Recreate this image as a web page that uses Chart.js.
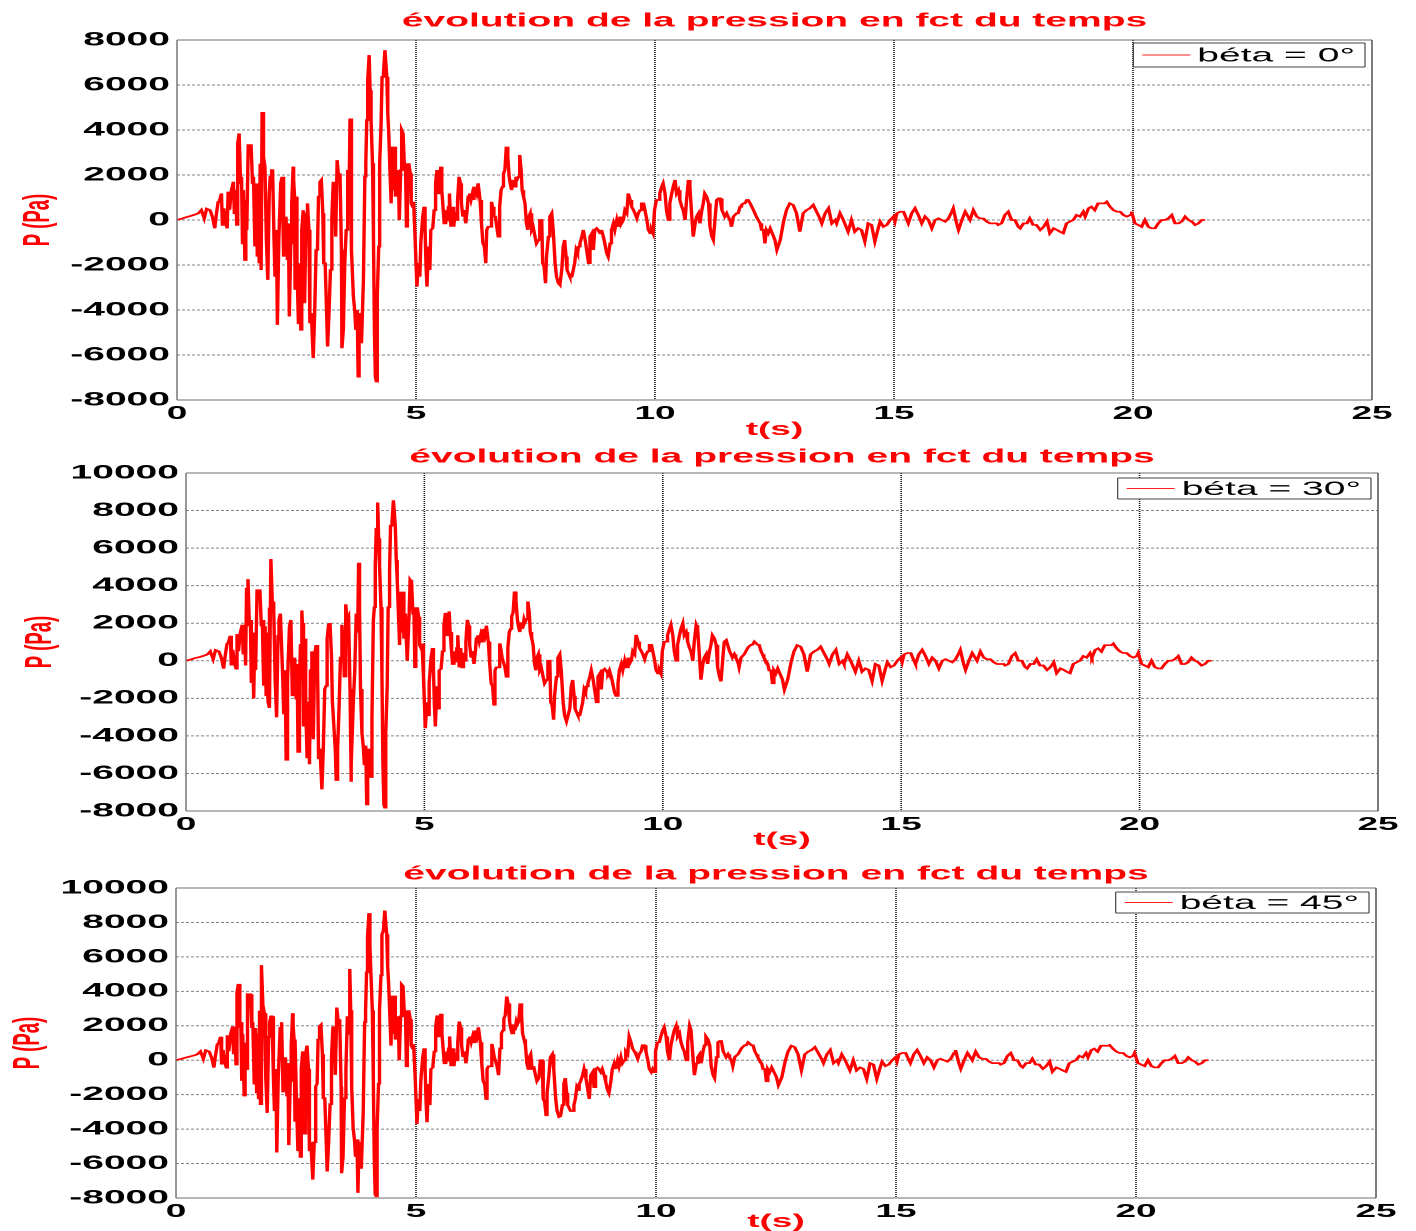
<!DOCTYPE html>
<html>
<head>
<meta charset="utf-8">
<title>évolution de la pression en fct du temps</title>
<script src="https://cdn.jsdelivr.net/npm/chart.js@4.4.1/dist/chart.umd.min.js"></script>
<style>
  html, body { margin: 0; padding: 0; background: #fff; }
  body { width: 1416px; height: 1231px; overflow: hidden; position: relative; }
  /* the original figure is stretched 2x horizontally, text included */
  #stage { position: absolute; left: 0; top: 0; width: 708px; height: 1231px; transform: scaleX(2); transform-origin: 0 0; }
  #stage canvas { position: absolute; left: 0; }
</style>
</head>
<body>
<div id="stage">
  <canvas id="c1" width="708" height="440" style="top:0px"></canvas>
  <canvas id="c2" width="708" height="415" style="top:440px"></canvas>
  <canvas id="c3" width="708" height="376" style="top:855px"></canvas>
</div>
<script>
// time (s), shared by the three records
const timeS = [
  0, 0.1, 0.2, 0.3, 0.4, 0.45, 0.51, 0.57, 0.62, 0.69,
  0.74, 0.79, 0.82, 0.86, 0.89, 0.93, 0.95, 0.98, 1.02, 1.05,
  1.07, 1.1, 1.14, 1.18, 1.2, 1.23, 1.25, 1.27, 1.3, 1.33,
  1.35, 1.37, 1.39, 1.42, 1.44, 1.46, 1.49, 1.55, 1.58, 1.6,
  1.63, 1.66, 1.68, 1.7, 1.72, 1.74, 1.76, 1.78, 1.81, 1.84,
  1.87, 1.9, 1.93, 1.95, 1.98, 2.0, 2.03, 2.05, 2.08, 2.1,
  2.13, 2.17, 2.2, 2.23,
  2.26, 2.28, 2.31, 2.33, 2.35, 2.38, 2.4, 2.43, 2.44, 2.46,
  2.47, 2.49, 2.51, 2.54, 2.57, 2.59, 2.61, 2.64, 2.67, 2.7,
  2.73, 2.76, 2.78, 2.81, 2.85, 2.88, 2.91, 2.94, 2.96, 2.99,
  3.02, 3.05, 3.07, 3.1, 3.13, 3.15, 3.18, 3.21, 3.24, 3.27,
  3.3, 3.32, 3.35, 3.38, 3.41, 3.44, 3.45, 3.48, 3.51, 3.54,
  3.57, 3.6, 3.62, 3.64, 3.66, 3.69, 3.72, 3.74, 3.77, 3.79,
  3.81, 3.84, 3.86, 3.9, 3.93, 3.95, 3.97, 3.99, 4.02, 4.04,
  4.06, 4.09, 4.11, 4.13, 4.15, 4.17, 4.19, 4.22, 4.24, 4.27,
  4.29, 4.32,
  4.35, 4.39, 4.41, 4.43, 4.46, 4.48, 4.5, 4.53, 4.55, 4.57,
  4.6, 4.62, 4.63, 4.65, 4.68, 4.7, 4.73, 4.76, 4.78, 4.8,
  4.82, 4.85, 4.88, 4.9, 4.93, 4.95, 4.98, 5.0, 5.02, 5.05,
  5.08, 5.1, 5.14, 5.17, 5.19, 5.21, 5.23, 5.26, 5.29, 5.31,
  5.35, 5.38, 5.41, 5.44, 5.47, 5.49, 5.52, 5.54, 5.57, 5.59,
  5.62, 5.65, 5.68, 5.7, 5.73, 5.76, 5.79, 5.82, 5.84, 5.87,
  5.9, 5.93, 5.95, 5.98, 6.01, 6.04, 6.07, 6.09, 6.12, 6.15,
  6.18, 6.21, 6.23, 6.27, 6.3, 6.34, 6.37, 6.4, 6.43, 6.46,
  6.48, 6.51, 6.55, 6.58, 6.6, 6.63, 6.66, 6.69, 6.72, 6.75,
  6.78, 6.81, 6.83, 6.86, 6.89, 6.92, 6.95, 6.97, 7.0, 7.03,
  7.06, 7.09, 7.11, 7.14, 7.17, 7.2, 7.22, 7.25, 7.28, 7.31,
  7.34, 7.36, 7.39, 7.42, 7.45,
  7.49, 7.52, 7.56, 7.59, 7.63, 7.65, 7.68, 7.71, 7.73, 7.77,
  7.8, 7.84, 7.87, 7.91, 7.94, 7.98, 8.01, 8.05, 8.08, 8.11,
  8.14, 8.16, 8.19, 8.22, 8.26, 8.29, 8.32, 8.35, 8.38, 8.4,
  8.43, 8.47, 8.5, 8.54, 8.57, 8.61, 8.64, 8.68, 8.71, 8.74,
  8.78, 8.81, 8.85, 8.88, 8.92, 8.95, 8.99, 9.02, 9.06, 9.09,
  9.13, 9.16, 9.2, 9.23, 9.27, 9.3, 9.34, 9.37, 9.41, 9.44,
  9.48, 9.51, 9.55, 9.58, 9.62, 9.65, 9.69, 9.72, 9.76, 9.79,
  9.83, 9.86, 9.9, 9.93, 9.96, 9.99, 10.03, 10.07, 10.1, 10.14,
  10.17, 10.21, 10.24, 10.28, 10.31, 10.35, 10.38, 10.42, 10.45, 10.49,
  10.52, 10.56, 10.59, 10.63, 10.66, 10.7, 10.73, 10.77, 10.8, 10.84,
  10.87, 10.91, 10.94, 10.98, 11.01, 11.04, 11.08, 11.12, 11.15, 11.19,
  11.22, 11.26, 11.29, 11.33, 11.36, 11.4, 11.43, 11.46, 11.5, 11.53,
  11.57, 11.6, 11.64, 11.67, 11.71, 11.74, 11.78, 11.81, 11.85, 11.88,
  11.92, 11.95, 11.99, 12.02, 12.06, 12.09, 12.12, 12.16, 12.2, 12.23,
  12.27, 12.3, 12.33, 12.37,
  12.41, 12.51, 12.55, 12.62, 12.69, 12.75, 12.82, 12.89, 12.96, 13.03,
  13.1, 13.17, 13.24, 13.31, 13.38, 13.45, 13.49, 13.56, 13.63, 13.7,
  13.77, 13.8, 13.87, 13.94, 14.04, 14.11, 14.18, 14.25, 14.32, 14.39,
  14.46, 14.53, 14.6, 14.67, 14.71, 14.78, 14.85, 14.92, 14.99, 15.02,
  15.06, 15.13, 15.2, 15.27, 15.3, 15.37, 15.44, 15.51, 15.58, 15.65,
  15.72, 15.79, 15.86, 15.93, 16.0, 16.07, 16.14, 16.21, 16.24, 16.31,
  16.35, 16.42, 16.49, 16.55, 16.59, 16.66, 16.73, 16.8, 16.87, 16.94,
  17.01, 17.08, 17.15, 17.18, 17.25, 17.32, 17.39, 17.46, 17.53, 17.6,
  17.64, 17.71, 17.78, 17.84, 17.91, 17.98, 18.06, 18.13, 18.2, 18.26,
  18.34, 18.41, 18.47, 18.54, 18.61, 18.68, 18.75, 18.82, 18.89, 18.96,
  19.0, 19.07, 19.13, 19.2, 19.27, 19.34, 19.41, 19.45, 19.52, 19.59,
  19.66, 19.73, 19.8, 19.87, 19.94, 19.97, 20.04, 20.11, 20.18, 20.25,
  20.32, 20.39, 20.46, 20.53, 20.6, 20.67, 20.74, 20.81, 20.88, 20.95,
  21.02, 21.09, 21.16, 21.23, 21.3, 21.37, 21.44, 21.51
];

// pressure (Pa), beta = 0 deg
const pBeta0 = [
  0, 60, 130, 190, 260, 300, 440, 70, 500, 440,
  150, -370, 200, 800, 870, 1180, -220, 520, -150, -370,
  1260, 450, 1330, 1700, 300, 1330, -220, 3400, 3850, 1630,
  1920, -1040, 1330, -1780, 890, -440, 3330, 3330, 1630, 1920,
  -1180, 1630, -1630, 1330, -1920, 2500, -2220, 4800, 2800, 2370,
  -890, -2660, 1180, 1920, 2220, 2220, -890, -2520, -440, -4660,
  -890, 1630, 1920, -1630,
  -1040, 150, -1780, -150, -4290, -1040, 740, 2370, 1780, 1040,
  -3100, 1040, -2070, -4590, -1920, -4880, -440, 440, -3700, 300,
  740, -440, -4590, -4140, -6140, -4140, -1330, -1180, 1040, 1700,
  1780, 300, -1920, -1920, -4140, -5620, -4140, -2220, 150, 1700,
  740, -740, 2660, 1920, 2070, -1330, -5700, -4880, -1920, -440,
  2220, 1330, 4510, 2520, -1330, -3400, -4070, -4880, -4000, -6960,
  -4590, -4140, -5480, -2660, 1920, 2520, 4440, 6220, 7330, 5770,
  4440, 2520, -740, -4880, -6960, -7180, -3400, -1180, 2520, 4290,
  6360, 6510,
  7550, 6360, 4740, 3850, 1920, 740, 3260, 1330, 3260, 1040,
  2220, 1040, 2070, 0, 2220, 4000, 3850, 2220, 2520, -300,
  1330, 2520, 2070, 740, 590, 810, -740, -1920, -2960, -1920,
  -2520, -1040, 150, 590, -440, -2070, -2960, -1180, -2220, -440,
  -370, 440, 1630, 2220, 1180, 1920, 2370, 1330, 440, -150,
  440, -70, 590, 1180, -300, 590, -300, 370, 0, 890,
  1920, 1630, 740, 150, 440, -150, 440, 1040, 1180, 890,
  1180, 890, 1480, 1180, 1630, 890, -150, -1040, -1180, -1920,
  -440, -300, -300, 810, 590, 150, 150, -300, -740, 590,
  1330, 1480, 2070, 2220, 3260, 2810, 1920, 1630, 1330, 1780,
  1480, 1920, 1780, 1920, 2890, 2220, 1330, 1040, 740, -150,
  -440, 150, 300, -440, -300,
  -740, -1040, -890, 0, 0, -1920, -2070, -2810, -1630, -740,
  150, 300, -440, -1920, -2520, -2810, -2880, -2220, -1180, -890,
  -1630, -2220, -2370, -2520, -2520, -2220, -1920, -1330, -1480, -1180,
  -1040, -740, -440, -890, -1330, -1920, -740, -590, -1330, -440,
  -370, -440, -590, -440, -740, -1040, -1480, -1630, -1040, -440,
  -150, -440, 0, -300, 150, -150, 0, 440, 300, 1180,
  890, 590, 440, 300, 70, 300, 440, 740, 740, 440,
  0, -440, -590, -440, -590, 440, 890, 890, 1180, 1480,
  1630, 1180, 440, 0, 740, 1180, 1480, 1780, 1180, 1330,
  890, 590, 440, 0, 890, 1780, 1480, 150, -740, -150,
  150, 300, -150, 440, 740, 1180, 1040, 740, -300, -740,
  -890, 150, 890, 960, 960, 440, 300, 150, 300, 150,
  0, -300, 150, 220, 300, 300, 590, 670, 740, 740,
  890, 890, 740, 740, 440, 300, 150, 0, -150, -440,
  -440, -1040, -440, -590,
  -370, -890, -1330, -890, -70, 440, 740, 670, 300, -520,
  300, 440, 520, 670, 370, 70, -150, 300, 520, -150,
  0, -150, 300, 0, -520, 0, -520, -370, -440, -960,
  -150, -220, -960, -370, -70, -300, -220, 0, 150, -70,
  300, 370, 370, 0, -150, 300, 520, 220, -150, 150,
  0, -370, 0, 70, 0, -70, 70, 370, 520, -150,
  -440, 0, 370, 150, 0, 440, 150, 70, 70, -70,
  -150, -150, -150, -220, -150, 220, 370, 0, 0, -300,
  -370, -150, -150, 70, -220, -220, -440, -300, -70, -590,
  -370, -440, -520, -590, -150, -70, 0, 220, 150, 370,
  150, 520, 590, 440, 740, 740, 740, 810, 590, 440,
  370, 370, 220, 150, 220, 370, -150, -220, -300, 0,
  -300, -370, -370, -150, 0, 0, 70, 220, -150, -150,
  -70, 150, 0, -70, -220, -150, 0, 0
];

// pressure (Pa), beta = 30 deg
const pBeta30 = [
  0, 70, 150, 210, 290, 340, 500, 80, 570, 500,
  170, -420, 230, 900, 980, 1330, -250, 590, -170, -420,
  1420, 510, 1500, 1920, 340, 1500, -250, 3840, 4350, 1840,
  2170, -1180, 1500, -2010, 1010, -500, 3760, 3760, 1840, 2170,
  -1330, 1840, -1840, 1500, -2170, 2830, -2510, 5420, 3160, 2680,
  -1010, -3010, 1330, 2170, 2510, 2510, -1010, -2850, -500, -5270,
  -1010, 1840, 2170, -1840,
  -1180, 170, -2010, -170, -4850, -1180, 840, 2680, 2010, 1180,
  -3500, 1180, -2340, -5190, -2170, -5510, -500, 500, -4180, 340,
  840, -500, -5190, -4680, -6850, -4680, -1500, -1330, 1180, 1920,
  2010, 340, -2170, -2170, -4680, -6350, -4680, -2510, 170, 1920,
  840, -840, 3010, 2170, 2340, -1500, -6440, -5510, -2170, -500,
  2510, 1500, 5220, 2850, -1500, -3840, -4600, -5510, -4520, -7650,
  -5190, -4680, -6190, -3010, 2170, 2850, 5020, 7030, 8430, 6520,
  5020, 2850, -840, -5510, -7650, -7820, -3840, -1330, 2850, 4850,
  7190, 7360,
  8550, 7190, 5360, 4350, 2170, 840, 3680, 1500, 3680, 1180,
  2510, 1180, 2340, 0, 2510, 4310, 4200, 2510, 2850, -340,
  1500, 2850, 2340, 840, 670, 920, -840, -2210, -3590, -2210,
  -2900, -1200, 170, 680, -510, -2380, -3500, -1360, -2550, -510,
  -430, 510, 1870, 2550, 1360, 2210, 2630, 1530, 510, -170,
  510, -80, 680, 1360, -350, 680, -350, 430, 0, 1020,
  2180, 1870, 850, 170, 510, -170, 510, 1200, 1360, 1020,
  1360, 1020, 1700, 1360, 1870, 1020, -170, -1200, -1360, -2340,
  -510, -350, -350, 930, 680, 170, 170, -350, -850, 680,
  1530, 1700, 2380, 2550, 3690, 3230, 2210, 1870, 1530, 2050,
  1700, 2210, 2050, 2210, 3160, 2550, 1530, 1200, 850, -170,
  -510, 170, 350, -510, -350,
  -850, -1200, -1020, 0, 0, -2210, -2380, -3140, -1870, -850,
  170, 350, -510, -2210, -2900, -3230, -3230, -2550, -1360, -1020,
  -1870, -2550, -2730, -2900, -2900, -2550, -2210, -1530, -1700, -1360,
  -1200, -850, -510, -1020, -1530, -2210, -850, -680, -1530, -510,
  -430, -510, -680, -510, -850, -1200, -1700, -1870, -1200, -510,
  -170, -510, 0, -350, 170, -170, 0, 510, 350, 1380,
  1020, 680, 510, 350, 80, 350, 510, 850, 850, 510,
  0, -510, -680, -510, -680, 510, 1020, 1020, 1360, 1700,
  1920, 1360, 510, 0, 850, 1360, 1700, 2000, 1360, 1530,
  1020, 680, 510, 0, 1020, 1900, 1700, 170, -1010, -170,
  170, 350, -170, 510, 850, 1360, 1200, 850, -350, -850,
  -1100, 170, 1020, 1100, 1100, 510, 350, 170, 350, 170,
  0, -350, 170, 250, 350, 350, 680, 770, 850, 850,
  1020, 1020, 850, 850, 510, 350, 170, 0, -170, -510,
  -510, -1200, -510, -680,
  -410, -1000, -1540, -1000, -80, 490, 830, 750, 340, -580,
  340, 490, 580, 750, 410, 80, -170, 340, 580, -170,
  0, -170, 340, 0, -580, 0, -580, -410, -490, -1080,
  -170, -250, -1080, -410, -80, -340, -250, 0, 170, -80,
  340, 410, 410, 0, -170, 340, 580, 250, -170, 170,
  0, -410, 0, 80, 0, -80, 80, 410, 580, -170,
  -490, 0, 410, 170, 0, 490, 170, 80, 80, -80,
  -170, -170, -170, -250, -170, 250, 410, 0, 0, -340,
  -410, -170, -170, 80, -250, -250, -490, -340, -80, -660,
  -410, -490, -580, -660, -170, -80, 0, 250, 170, 410,
  170, 580, 660, 490, 830, 830, 830, 910, 660, 490,
  410, 410, 250, 170, 250, 410, -170, -250, -340, 0,
  -340, -410, -410, -170, 0, 0, 80, 250, -170, -170,
  -80, 170, 0, -80, -250, -170, 0, 0
];

// pressure (Pa), beta = 45 deg
const pBeta45 = [
  0, 70, 150, 220, 300, 350, 510, 80, 580, 510,
  170, -430, 230, 920, 1000, 1360, -250, 600, -170, -430,
  1450, 520, 1530, 1960, 350, 1530, -250, 3910, 4430, 1870,
  2210, -1200, 1530, -2050, 1020, -510, 3830, 3830, 1870, 2210,
  -1360, 1870, -1870, 1530, -2210, 2880, -2550, 5520, 3220, 2730,
  -1020, -3060, 1360, 2210, 2550, 2550, -1020, -2900, -510, -5360,
  -1020, 1870, 2210, -1870,
  -1200, 170, -2050, -170, -4930, -1200, 850, 2730, 2050, 1200,
  -3570, 1200, -2380, -5280, -2210, -5610, -510, 510, -4260, 350,
  850, -510, -5280, -4760, -6930, -4760, -1530, -1360, 1200, 1960,
  2050, 350, -2210, -2210, -4760, -6460, -4760, -2550, 170, 1960,
  850, -850, 3060, 2210, 2380, -1530, -6560, -5610, -2210, -510,
  2550, 1530, 5300, 2900, -1530, -3910, -4680, -5610, -4600, -7700,
  -5280, -4760, -6300, -3060, 2210, 2900, 5110, 7150, 8540, 6640,
  5110, 2900, -850, -5610, -7800, -7900, -3910, -1360, 2900, 4930,
  7310, 7490,
  8690, 7310, 5450, 4430, 2210, 850, 3750, 1530, 3750, 1200,
  2550, 1200, 2380, 0, 2550, 4400, 4300, 2550, 2900, -350,
  1530, 2900, 2380, 850, 680, 930, -850, -2250, -3700, -2250,
  -2950, -1220, 180, 690, -510, -2420, -3600, -1380, -2600, -510,
  -430, 510, 1910, 2600, 1380, 2250, 2700, 1560, 510, -180,
  510, -80, 690, 1380, -350, 690, -350, 430, 0, 1040,
  2250, 1910, 870, 180, 510, -180, 510, 1220, 1380, 1040,
  1380, 1040, 1730, 1380, 1910, 1040, -180, -1220, -1380, -2250,
  -510, -350, -350, 950, 690, 180, 180, -350, -870, 690,
  1560, 1730, 2420, 2600, 3700, 3290, 2250, 1910, 1560, 2080,
  1730, 2250, 2080, 2250, 3300, 2600, 1560, 1220, 870, -180,
  -510, 180, 350, -510, -350,
  -870, -1220, -1040, 0, 0, -2250, -2420, -3200, -1910, -870,
  180, 350, -510, -2250, -2950, -3290, -3250, -2600, -1380, -1040,
  -1910, -2600, -2770, -2950, -2950, -2600, -2250, -1560, -1730, -1380,
  -1220, -870, -510, -1040, -1560, -2250, -870, -690, -1560, -510,
  -430, -510, -690, -510, -870, -1220, -1730, -1910, -1220, -510,
  -180, -510, 0, -350, 180, -180, 0, 510, 350, 1380,
  1040, 690, 510, 350, 80, 350, 510, 870, 870, 510,
  0, -510, -690, -510, -690, 510, 1040, 1040, 1380, 1730,
  1910, 1380, 510, 0, 870, 1380, 1730, 2000, 1380, 1560,
  1040, 690, 510, 0, 1040, 2000, 1730, 180, -870, -180,
  180, 350, -180, 510, 870, 1380, 1220, 870, -350, -870,
  -1040, 180, 1040, 1120, 1120, 510, 350, 180, 350, 180,
  0, -350, 180, 260, 350, 350, 690, 780, 870, 870,
  1040, 1040, 870, 870, 510, 350, 180, 0, -180, -510,
  -510, -1220, -510, -690,
  -420, -980, -1450, -1000, -80, 500, 840, 760, 340, -590,
  340, 500, 590, 760, 420, 80, -170, 340, 590, -170,
  0, -170, 340, 0, -590, 0, -590, -420, -500, -1090,
  -170, -250, -1090, -420, -80, -340, -250, 0, 170, -80,
  340, 420, 420, 0, -170, 340, 590, 250, -170, 170,
  0, -420, 0, 80, 0, -80, 80, 420, 590, -170,
  -500, 0, 420, 170, 0, 500, 170, 80, 80, -80,
  -170, -170, -170, -250, -170, 250, 420, 0, 0, -340,
  -420, -170, -170, 80, -250, -250, -500, -340, -80, -670,
  -420, -500, -590, -670, -170, -80, 0, 250, 170, 420,
  170, 590, 670, 500, 840, 840, 840, 880, 670, 500,
  420, 420, 250, 170, 250, 420, -170, -250, -340, 0,
  -340, -420, -420, -170, 0, 0, 80, 250, -170, -170,
  -80, 170, 0, -80, -250, -170, 0, 0
];

const xTicks = [0, 5, 10, 15, 20, 25];
const yTicksTop = [-8000, -6000, -4000, -2000, 0, 2000, 4000, 6000, 8000];
const yTicksLow = [-8000, -6000, -4000, -2000, 0, 2000, 4000, 6000, 8000, 10000];
const legendLabels = ['béta = 0°', 'béta = 30°', 'béta = 45°'];
const plotTitle = 'évolution de la pression en fct du temps';
const xLabel = 't(s)';
const yLabel = 'P (Pa)';

const FAMILY = '"Liberation Sans", Arial, Helvetica, sans-serif';
Chart.defaults.font.family = FAMILY;

[pBeta0, pBeta30, pBeta45].forEach((arr, i) => {
  if (arr.length !== timeS.length) {
    document.body.insertAdjacentHTML('beforeend',
      '<div style="position:absolute;top:' + (i * 20) + 'px;left:600px;color:blue;font:14px sans-serif;z-index:9">len ' + i + ': ' + arr.length + ' vs ' + timeS.length + '</div>');
  }
});

function hLine(ctx, x1, x2, y, w) {
  ctx.lineWidth = w;
  ctx.beginPath(); ctx.moveTo(x1, y); ctx.lineTo(x2, y); ctx.stroke();
}
function vLine(ctx, x, y1, y2, w) {
  ctx.lineWidth = w;
  ctx.beginPath(); ctx.moveTo(x, y1); ctx.lineTo(x, y2); ctx.stroke();
}

function panelDeco(geo, label, yTicks) {
  return {
    id: 'panelDeco',
    beforeDatasetsDraw(chart) {
      const { ctx, chartArea: a, scales } = chart;
      ctx.save();
      ctx.strokeStyle = '#858585';
      ctx.setLineDash([1.5, 1]);
      yTicks.forEach(v => {
        if (v === yTicks[0] || v === yTicks[yTicks.length - 1]) return;
        hLine(ctx, a.left, a.right, scales.y.getPixelForValue(v), 1);
      });
      ctx.strokeStyle = '#111';
      ctx.setLineDash([1, 1]);
      xTicks.forEach(v => {
        if (v === xTicks[0] || v === xTicks[xTicks.length - 1]) return;
        vLine(ctx, scales.x.getPixelForValue(v), a.top, a.bottom, 0.8);
      });
      ctx.restore();
    },
    afterDraw(chart) {
      const { ctx, chartArea: a } = chart;
      const cx = (a.left + a.right) / 2;
      ctx.save();
      ctx.setLineDash([]);
      // axes box
      ctx.strokeStyle = '#6e6e6e';
      hLine(ctx, a.left, a.right, a.top, 1);
      hLine(ctx, a.left, a.right, a.bottom, 1);
      vLine(ctx, a.left, a.top, a.bottom, 0.7);
      ctx.strokeStyle = '#444';
      vLine(ctx, a.right, a.top, a.bottom, 0.7);

      // title and axis labels
      ctx.fillStyle = '#ff0000';
      ctx.textAlign = 'center';
      ctx.textBaseline = 'middle';
      ctx.font = 'bold 19.5px ' + FAMILY;
      ctx.fillText(plotTitle, cx, a.top - geo.titleGap);
      ctx.font = 'bold 18.5px ' + FAMILY;
      ctx.fillText(xLabel, cx, a.bottom + geo.xLabelGap);
      ctx.save();
      ctx.translate(geo.yLabelX, (a.top + a.bottom) / 2);
      ctx.rotate(-Math.PI / 2);
      ctx.fillText(yLabel, 0, 0);
      ctx.restore();

      // legend
      ctx.font = '19.5px ' + FAMILY;
      const tw = ctx.measureText(label).width;
      const w = 32 + tw + 5;
      const h = geo.legH;
      const lx = a.right - 3.5 - w;
      const ly = a.top + geo.legTop;
      ctx.fillStyle = '#fff';
      ctx.fillRect(lx, ly, w, h);
      ctx.strokeStyle = '#444';
      hLine(ctx, lx, lx + w, ly, 1);
      hLine(ctx, lx, lx + w, ly + h, 1);
      vLine(ctx, lx, ly, ly + h, 0.6);
      vLine(ctx, lx + w, ly, ly + h, 0.6);
      ctx.strokeStyle = '#ff2020';
      hLine(ctx, lx + 4.5, lx + 28.5, ly + h / 2, 1);
      ctx.fillStyle = '#000';
      ctx.textAlign = 'left';
      ctx.fillText(label, lx + 32, ly + h / 2 + 1);
      ctx.restore();
    }
  };
}

function makePanel(canvasId, values, label, yTicks, geo) {
  const points = timeS.map((t, i) => ({ x: t, y: values[i] }));
  return new Chart(document.getElementById(canvasId), {
    type: 'line',
    data: {
      datasets: [{
        label: label,
        data: points,
        borderColor: '#ff0000',
        borderWidth: 1.7,
        pointRadius: 0,
        tension: 0,
        fill: false
      }]
    },
    options: {
      responsive: false,
      animation: false,
      devicePixelRatio: 2,
      parsing: false,
      normalized: true,
      layout: { padding: { left: 0, right: geo.padRight, top: geo.top, bottom: 0 } },
      plugins: {
        legend: { display: false },
        title: { display: false },
        tooltip: { enabled: false }
      },
      scales: {
        x: {
          type: 'linear',
          min: 0,
          max: 25,
          afterBuildTicks: s => { s.ticks = xTicks.map(v => ({ value: v })); },
          afterFit: s => { s.height = geo.xAxisH; },
          grid: { display: false, drawTicks: false },
          border: { display: false },
          ticks: {
            padding: 3,
            maxRotation: 0,
            autoSkip: false,
            color: '#000',
            font: { size: 18.5, weight: 'bold' },
            callback: v => String(v)
          }
        },
        y: {
          type: 'linear',
          min: yTicks[0],
          max: yTicks[yTicks.length - 1],
          afterBuildTicks: s => { s.ticks = yTicks.map(v => ({ value: v })); },
          afterFit: s => { s.width = geo.yAxisW; },
          grid: { display: false, drawTicks: false },
          border: { display: false },
          ticks: {
            padding: 3.5,
            autoSkip: false,
            color: '#000',
            font: { size: 19.5, weight: 'bold' },
            callback: v => String(v)
          }
        }
      }
    },
    plugins: [panelDeco(geo, label, yTicks)]
  });
}

makePanel('c1', pBeta0, legendLabels[0], yTicksTop,
  { top: 40, padRight: 22, yAxisW: 88.5, xAxisH: 40, titleGap: 19, xLabelGap: 30, yLabelX: 19.5, legTop: 3, legH: 24 });
makePanel('c2', pBeta30, legendLabels[1], yTicksLow,
  { top: 33, padRight: 19, yAxisW: 93, xAxisH: 44, titleGap: 16, xLabelGap: 29, yLabelX: 20.5, legTop: 5, legH: 21 });
makePanel('c3', pBeta45, legendLabels[2], yTicksLow,
  { top: 33, padRight: 20, yAxisW: 88, xAxisH: 33, titleGap: 14, xLabelGap: 24, yLabelX: 14.25, legTop: 4, legH: 21 });
</script>
</body>
</html>
